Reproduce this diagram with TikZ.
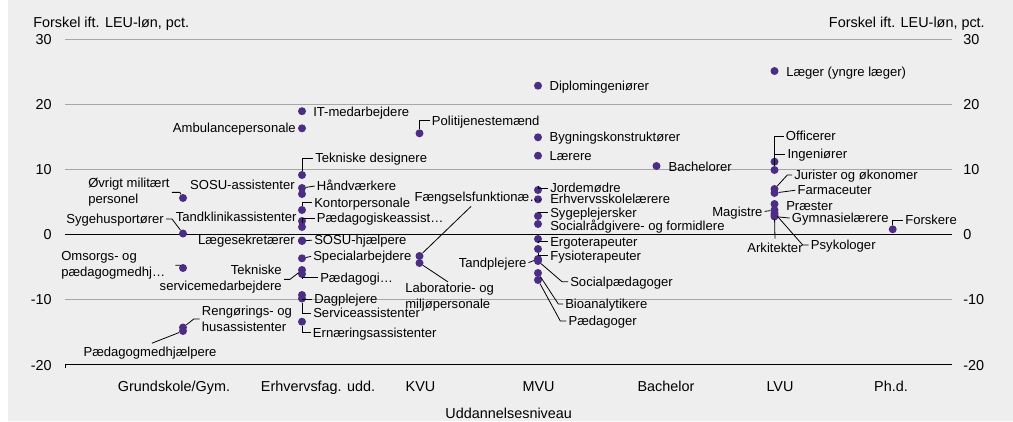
\documentclass[tikz,border=0pt]{standalone}
\usepackage{fontspec}
\setmainfont{Liberation Sans}
\usepackage{tikz}
\definecolor{fond}{HTML}{EEEEEE}
\definecolor{lilla}{HTML}{4B2E83}
\definecolor{gitter}{HTML}{A6A6A6}
\tikzset{punkt/.style={
    circle,
    fill=lilla,
    inner sep=0pt,
    minimum size=6pt}}
\tikzset{etiket/.style={
    font=\fontsize{9.8}{12}\selectfont,
    inner sep=0pt,
    text height=9.1pt,
    text depth=2.1pt}}
\tikzset{etiketto/.style={
    font=\fontsize{9.8}{12}\selectfont,
    inner sep=0pt}}
\tikzset{streg/.style={
    draw=black,
    line width=0.6pt,
    shorten >=1.5pt}}
\tikzset{gitterlinje/.style={
    draw=gitter,
    line width=0.75pt}}
\tikzset{akselinje/.style={
    draw=black,
    line width=0.75pt}}
\tikzset{aksetekst/.style={
    font=\fontsize{10.8}{13}\selectfont,
    inner sep=0pt,
    text height=10pt,
    text depth=2.2pt}}

\begin{document}
\begin{tikzpicture}[x=0.75pt,y=-0.75pt]
\useasboundingbox (0,0) rectangle (1013,421);
\fill[fond] (8,0) rectangle (1013,421);

% gitter og akser
\foreach \v in {30,20,10,-10}
  \draw[gitterlinje] (65,{234.6-6.514*\v}) -- (952,{234.6-6.514*\v});
\foreach \v in {0,-20}
  \draw[akselinje] (65,{234.6-6.514*\v}) -- (952,{234.6-6.514*\v});
\draw[akselinje] (65,364.9) -- (65,368);
\foreach \v in {30,20,10,0,-10,-20} {
  \node[aksetekst, anchor=east] (yv\v) at (52,{234.6-6.514*\v}) {\v};
  \node[aksetekst, anchor=west] (yh\v) at (963,{234.6-6.514*\v}) {\v};
}
\node[aksetekst, anchor=west] (ytitelv) at (33,22) {Forskel ift. LEU-løn, pct.};
\node[aksetekst, anchor=east] (ytitelh) at (985,22) {Forskel ift. LEU-løn, pct.};

\node[aksetekst] (kat1) at (174,386) {Grundskole/Gym.};
\node[aksetekst] (kat2) at (318,386) {Erhvervsfag. udd.};
\node[aksetekst] (kat3) at (420.5,386) {KVU};
\node[aksetekst] (kat4) at (538.5,386) {MVU};
\node[aksetekst] (kat5) at (666,386) {Bachelor};
\node[aksetekst] (kat6) at (780,386) {LVU};
\node[aksetekst] (kat7) at (891,386) {Ph.d.};
\node[aksetekst] (xtitel) at (508.7,413) {Uddannelsesniveau};

% punkter
\node[punkt] (mil) at (183,198) {};
\node[punkt] (syg) at (183,233.5) {};
\node[punkt] (oms) at (183,268) {};
\node[punkt] (reng) at (183,327.5) {};
\node[punkt] (pmh) at (183,331) {};

\node[punkt] (it) at (302,111.2) {};
\node[punkt] (amb) at (302,128.3) {};
\node[punkt] (tekd) at (302,175) {};
\node[punkt] (haand) at (302,188) {};
\node[punkt] (sosua) at (302,194) {};
\node[punkt] (kont) at (302,210) {};
\node[punkt] (tandk) at (302,221) {};
\node[punkt] (paeda) at (302,227) {};
\node[punkt] (laeg) at (302,240.5) {};
\node[punkt] (sosuh) at (302,241) {};
\node[punkt] (spec) at (302,258.3) {};
\node[punkt] (teks) at (302,270) {};
\node[punkt] (paedg) at (302,274) {};
\node[punkt] (dagp) at (302,295) {};
\node[punkt] (serv) at (302,298.5) {};
\node[punkt] (ernae) at (302,321.7) {};

\node[punkt] (poli) at (419.5,133.3) {};
\node[punkt] (faeng) at (419.5,256) {};
\node[punkt] (lab) at (419.5,263) {};

\node[punkt] (dipl) at (538,85.7) {};
\node[punkt] (bygn) at (538,137.3) {};
\node[punkt] (laer) at (538,155.7) {};
\node[punkt] (jord) at (538,190) {};
\node[punkt] (erhv) at (538,199.3) {};
\node[punkt] (sygpl) at (538,216) {};
\node[punkt] (socr) at (538,224) {};
\node[punkt] (ergo) at (538,239) {};
\node[punkt] (fysio) at (538,249) {};
\node[punkt] (tandp) at (538,259) {};
\node[punkt] (socp) at (538,261) {};
\node[punkt] (bioa) at (538,273) {};
\node[punkt] (paedr) at (538,280) {};

\node[punkt] (bach) at (656.5,166) {};

\node[punkt] (laeger) at (774.5,71) {};
\node[punkt] (ing) at (774.5,161.7) {};
\node[punkt] (off) at (774.5,170) {};
\node[punkt] (jur) at (774.5,189) {};
\node[punkt] (farm) at (774.5,193) {};
\node[punkt] (praest) at (774.5,204) {};
\node[punkt] (mag) at (774.5,210) {};
\node[punkt] (psyk) at (774.5,213) {};
\node[punkt] (ark) at (774.5,215) {};
\node[punkt] (gymn) at (774.5,216.5) {};

\node[punkt] (forsk) at (892.7,229.3) {};

% etiketter
\node[etiketto, align=left, anchor=north west] (mil-t) at (88,178) {Øvrigt militært\\personel};
\node[etiket, anchor=east] (syg-t) at (164,219) {Sygehusportører};
\node[etiketto, align=left, anchor=north west] (oms-t) at (61,251) {Omsorgs- og\\pædagogmedhj…};
\node[etiketto, align=left, anchor=north west] (reng-t) at (201.7,306) {Rengørings- og\\husassistenter};
\node[etiket] (pmh-t) at (150,351.7) {Pædagogmedhjælpere};

\node[etiket, anchor=west] (it-t) at (313,111.5) {IT-medarbejdere};
\node[etiket, anchor=east] (amb-t) at (296,128) {Ambulancepersonale};
\node[etiket, anchor=west] (tekd-t) at (315,158) {Tekniske designere};
\node[etiket, anchor=east] (sosua-t) at (295,185) {SOSU-assistenter};
\node[etiket, anchor=west] (haand-t) at (316.7,185.7) {Håndværkere};
\node[etiket, anchor=west] (kont-t) at (314,202.7) {Kontorpersonale};
\node[etiket, anchor=east] (tandk-t) at (296.7,217) {Tandklinikassistenter};
\node[etiket, anchor=west] (paeda-t) at (316.7,218) {Pædagogiskeassist…};
\node[etiket, anchor=east] (laeg-t) at (295,240) {Lægesekretærer};
\node[etiket, anchor=west] (sosuh-t) at (314,240) {SOSU-hjælpere};
\node[etiket, anchor=west] (spec-t) at (313,256) {Specialarbejdere};
\node[etiketto, align=right, anchor=north east] (teks-t) at (282,265) {Tekniske\\servicemedarbejdere};
\node[etiket, anchor=west] (paedg-t) at (320,277.7) {Pædagogi…};
\node[etiket, anchor=west] (dagp-t) at (314,299.3) {Dagplejere};
\node[etiket, anchor=west] (serv-t) at (313,313.3) {Serviceassistenter};
\node[etiket, anchor=west] (ernae-t) at (312.7,332.7) {Ernæringsassistenter};

\node[etiket, anchor=west] (poli-t) at (431.7,120.7) {Politijenestemænd};
\node[etiket, anchor=west] (faeng-t) at (414.3,197.3) {Fængselsfunktionæ…};
\node[etiketto, align=left, anchor=north west] (lab-t) at (405,283) {Laboratorie- og\\miljøpersonale};

\node[etiket, anchor=west] (dipl-t) at (549.3,86) {Diplomingeniører};
\node[etiket, anchor=west] (bygn-t) at (549.3,137.3) {Bygningskonstruktører};
\node[etiket, anchor=west] (laer-t) at (549.3,155.7) {Lærere};
\node[etiket, anchor=west] (jord-t) at (550,188.3) {Jordemødre};
\node[etiket, anchor=west] (erhv-t) at (550,199) {Erhvervsskolelærere};
\node[etiket, anchor=west] (sygpl-t) at (550,212.7) {Sygeplejersker};
\node[etiket, anchor=west] (socr-t) at (550,226) {Socialrådgivere- og formidlere};
\node[etiket, anchor=west] (ergo-t) at (550,241.7) {Ergoterapeuter};
\node[etiket, anchor=west] (fysio-t) at (550,255.7) {Fysioterapeuter};
\node[etiket, anchor=east] (tandp-t) at (526.7,263.3) {Tandplejere};
\node[etiket, anchor=west] (socp-t) at (570,281.7) {Socialpædagoger};
\node[etiket, anchor=west] (bioa-t) at (565,304) {Bioanalytikere};
\node[etiket, anchor=west] (paedr-t) at (568.3,321) {Pædagoger};

\node[etiket, anchor=west] (bach-t) at (668.3,167) {Bachelorer};

\node[etiket, anchor=west] (laeger-t) at (786,71.7) {Læger (yngre læger)};
\node[etiket, anchor=west] (off-t) at (785.7,136) {Officerer};
\node[etiket, anchor=west] (ing-t) at (787.3,154.3) {Ingeniører};
\node[etiket, anchor=west] (jur-t) at (794,175) {Jurister og økonomer};
\node[etiket, anchor=west] (farm-t) at (797.3,190) {Farmaceuter};
\node[etiket, anchor=west] (praest-t) at (786,206) {Præster};
\node[etiket, anchor=east] (mag-t) at (762.7,211.7) {Magistre};
\node[etiket, anchor=west] (gymn-t) at (791.7,218.3) {Gymnasielærere};
\node[etiket, anchor=west] (psyk-t) at (810.7,245) {Psykologer};
\node[etiket] (ark-t) at (775,248.3) {Arkitekter};
\node[etiket, anchor=west] (forsk-t) at (905,220) {Forskere};

% streger
\draw[streg] (mil) -- ([xshift=7.5pt]mil-t.east) -- (mil-t.east);
\draw[streg] (syg) -- ([xshift=6pt]syg-t.east) -- (syg-t.east);
\draw[streg] (oms) -- ([xshift=11pt]oms-t.east) -- ([xshift=6pt]oms-t.east);
\draw[streg] (reng) -- ([xshift=-6pt]reng-t.west) -- (reng-t.west);
\draw[streg] (pmh) -- (pmh-t.north);

\draw[streg] (tekd) |- (tekd-t.west);
\draw[streg] (haand) -- (haand-t.west);
\draw[streg] (kont) |- (kont-t.west);
\draw[streg] (paeda) |- (paeda-t.west);
\draw[streg] (sosuh) -- (sosuh-t.west);
\draw[streg] (spec) -- (spec-t.west);
\draw[streg] (teks) -- ([xshift=6pt]teks-t.east) -- (teks-t.east);
\draw[streg] (paedg) |- (paedg-t.west);
\draw[streg] (dagp) |- (dagp-t.west);
\draw[streg] (serv) |- (serv-t.west);
\draw[streg] (ernae) |- (ernae-t.west);

\draw[streg] (poli) |- (poli-t.west);
\draw[streg] (faeng) -- ([xshift=-4.5pt]faeng-t.south);
\draw[streg] (lab) -- (lab-t.north);

\draw[streg] (jord) |- (jord-t.west);
\draw[streg] (sygpl) |- (sygpl-t.west);
\draw[streg] (ergo) |- (ergo-t.west);
\draw[streg] (fysio) |- (fysio-t.west);
\draw[streg] (tandp) -- (tandp-t.east);
\draw[streg] (socp) -- ([xshift=-6pt]socp-t.west) -- (socp-t.west);
\draw[streg] (bioa) -- ([xshift=-5pt]bioa-t.west) -- (bioa-t.west);
\draw[streg] (paedr) -- ([xshift=-6pt]paedr-t.west) -- (paedr-t.west);

\draw[streg] (off) |- (off-t.west);
\draw[streg] (ing) |- (ing-t.west);
\draw[streg] (jur) -- ([xshift=-5pt]jur-t.west) -- (jur-t.west);
\draw[streg] (farm) -- (farm-t.west);
\draw[streg] (mag) -- (mag-t.east);
\draw[streg] (gymn) -- (gymn-t.west);
\draw[streg] (psyk) -- ([xshift=-6pt]psyk-t.west) -- (psyk-t.west);
\draw[streg] (ark) -- (ark-t.north);
\draw[streg] (forsk) |- (forsk-t.west);
\end{tikzpicture}
\end{document}
